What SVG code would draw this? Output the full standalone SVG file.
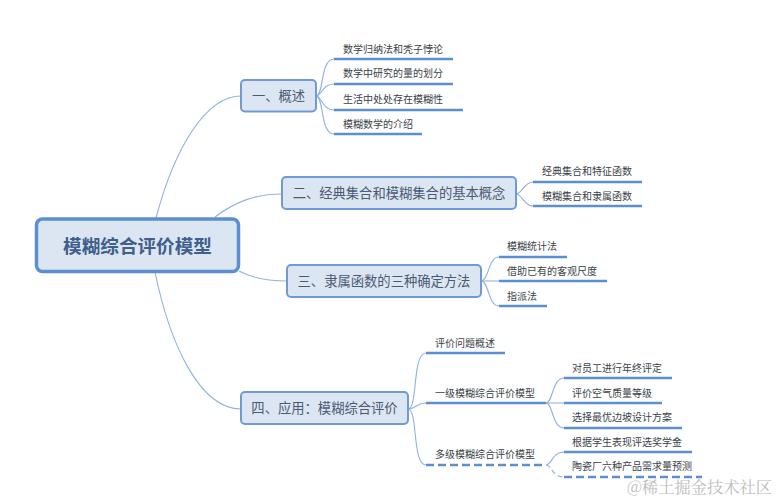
<svg xmlns="http://www.w3.org/2000/svg" width="778" height="502" viewBox="0 0 778 502">
<style>
text{font-family:"Noto Sans CJK SC","Noto Sans",sans-serif;fill:#3a3f48}
.leaf{font-size:10px}
.l1{font-size:13.300px;fill:#4a5a72}
.box{fill:#dce6f2;stroke:#6f9ad3;stroke-width:2}
.rule{stroke:#5b8fd0;stroke-width:2.4;fill:none}
.c{stroke:#8fb2de;stroke-width:1.1;fill:none}
</style>
<rect width="778" height="502" fill="#fff"/>
<g id="connectors">
<path class="c" d="M156 218C174 150 205 96 241 96"/>
<path class="c" d="M215 217C235 202 255 194 282 194"/>
<path class="c" d="M239 271C250 277 268 281 287 281"/>
<path class="c" d="M155 272C170 345 200 409 241 409"/>
<path class="c" d="M316 96C324 96 320 59 334 59"/>
<path class="c" d="M316 96C322 96 322 84 334 84"/>
<path class="c" d="M316 96C322 96 322 110 334 110"/>
<path class="c" d="M316 96C324 96 320 134 334 134"/>
<path class="c" d="M516 194C522 194 524 182 533 182"/>
<path class="c" d="M516 194C522 194 524 206 533 206"/>
<path class="c" d="M481 281C489 281 488 257 499 257"/>
<path class="c" d="M481 281L499 281"/>
<path class="c" d="M481 281C489 281 488 306 499 306"/>
<path class="c" d="M408 409C418 409 412 353 426 353"/>
<path class="c" d="M408 409C416 409 416 403 426 403"/>
<path class="c" d="M408 409C418 409 412 465 426 465"/>
<path class="c" d="M546 403C553 403 552 378 564 378"/>
<path class="c" d="M546 403L564 403"/>
<path class="c" d="M546 403C553 403 552 428 564 428"/>
<path class="c" d="M546 465C552 465 552 452 564 452"/>
<path class="c" d="M546 465C552 465 552 477 564 477" stroke-dasharray="5 3"/>
</g>
<g id="root"><rect x="36.500" y="219" width="202" height="52.500" rx="6" fill="#dce6f2" stroke="#5b8fd0" stroke-width="3.500"/><text x="137.500" y="252.500" text-anchor="middle" font-size="18.600" font-weight="700" style="fill:#3f5f8d">模糊综合评价模型</text></g>
<g id="n1"><rect class="box" x="241" y="80" width="75" height="31.500" rx="4"/><text class="l1" x="278.500" y="101" text-anchor="middle">一、概述</text></g>
<g id="n2"><rect class="box" x="282" y="177" width="234" height="32" rx="4"/><text class="l1" x="399" y="198" text-anchor="middle">二、经典集合和模糊集合的基本概念</text></g>
<g id="n3"><rect class="box" x="287" y="265" width="194" height="32" rx="4"/><text class="l1" x="384" y="286" text-anchor="middle">三、隶属函数的三种确定方法</text></g>
<g id="n4"><rect class="box" x="241" y="392" width="167" height="32" rx="4"/><text class="l1" x="324.500" y="413" text-anchor="middle">四、应用：模糊综合评价</text></g>
<g id="a1"><path class="rule" d="M334 59H453"/><text class="leaf" x="343" y="53">数学归纳法和秃子悖论</text></g>
<g id="a2"><path class="rule" d="M334 84H453"/><text class="leaf" x="343" y="77">数学中研究的量的划分</text></g>
<g id="a3"><path class="rule" d="M334 110H463"/><text class="leaf" x="343" y="103">生活中处处存在模糊性</text></g>
<g id="a4"><path class="rule" d="M334 134H422"/><text class="leaf" x="343" y="128">模糊数学的介绍</text></g>
<g id="b1"><path class="rule" d="M533 182H642"/><text class="leaf" x="542" y="175">经典集合和特征函数</text></g>
<g id="b2"><path class="rule" d="M533 206H642"/><text class="leaf" x="542" y="200">模糊集合和隶属函数</text></g>
<g id="c1"><path class="rule" d="M499 257H567"/><text class="leaf" x="507" y="250">模糊统计法</text></g>
<g id="c2"><path class="rule" d="M499 281H607"/><text class="leaf" x="507" y="275">借助已有的客观尺度</text></g>
<g id="c3"><path class="rule" d="M499 306H547"/><text class="leaf" x="507" y="300">指派法</text></g>
<g id="d1"><path class="rule" d="M426 353H505"/><text class="leaf" x="435" y="347">评价问题概述</text></g>
<g id="d2"><path class="rule" d="M426 403H546"/><text class="leaf" x="435" y="397">一级模糊综合评价模型</text></g>
<g id="d3"><path class="rule" d="M426 465H546" stroke-dasharray="8 4"/><text class="leaf" x="435" y="458">多级模糊综合评价模型</text></g>
<g id="e1"><path class="rule" d="M564 378H672"/><text class="leaf" x="572" y="372">对员工进行年终评定</text></g>
<g id="e2"><path class="rule" d="M564 403H662"/><text class="leaf" x="572" y="397">评价空气质量等级</text></g>
<g id="e3"><path class="rule" d="M564 428H682"/><text class="leaf" x="572" y="421">选择最优边坡设计方案</text></g>
<g id="e4"><path class="rule" d="M564 452H692"/><text class="leaf" x="572" y="446">根据学生表现评选奖学金</text></g>
<g id="e5"><path class="rule" d="M564 477H702" stroke-dasharray="8 4"/><text class="leaf" x="572" y="470">陶瓷厂六种产品需求量预测</text></g>
<text x="627" y="493" font-size="16.300" style="font-family:'Noto Serif CJK SC','Noto Sans CJK SC',serif;fill:#bdbdbd">@稀土掘金技术社区</text>
</svg>
